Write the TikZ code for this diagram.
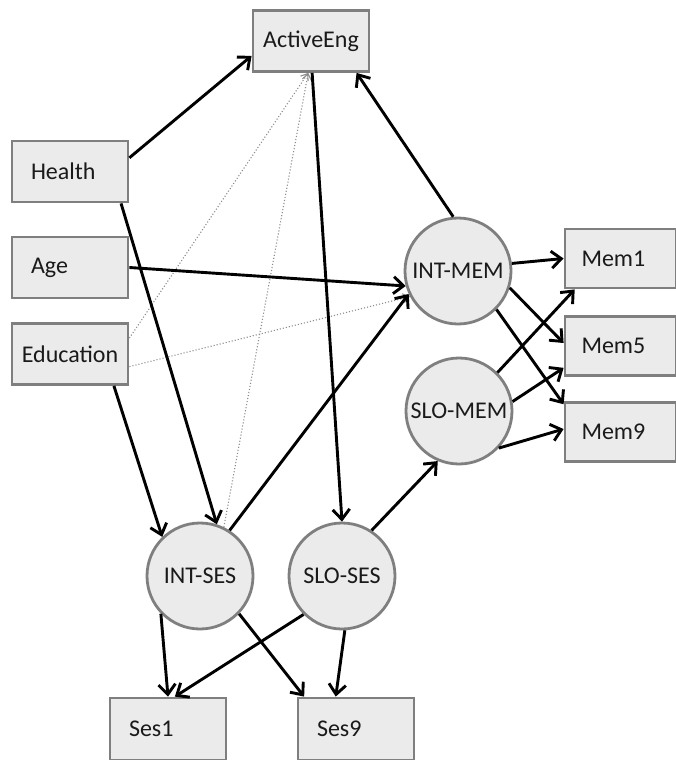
\documentclass[tikz,border=0pt]{standalone}
\usepackage{fontspec}
\setmainfont{Carlito}
\usetikzlibrary{arrows.meta}
\definecolor{BoxFill}{HTML}{EBEBEB}
\definecolor{BoxLine}{HTML}{7F7F7F}
\definecolor{LabelInk}{HTML}{1A1A1A}
\definecolor{CovGray}{HTML}{8C8C8C}

\begin{document}
\begin{tikzpicture}[x=1pt, y=-1pt,
    varbox/.style={rectangle, draw=BoxLine, fill=BoxFill, line width=2.8pt, minimum width=116pt, minimum height=61pt, inner sep=0pt, font=\fontsize{24}{28}\selectfont, text=LabelInk},
    leftlab/.style={text width=78pt, align=left},
    factor/.style={circle, draw=BoxLine, fill=BoxFill, line width=2.8pt, minimum size=106pt, inner sep=0pt, font=\fontsize{24}{28}\selectfont, text=LabelInk},
    effect/.style={-{Straight Barb[length=10pt, width=17pt]}, black, line width=2.9pt},
    cov/.style={-{Straight Barb[length=6pt, width=9pt]}, CovGray, line width=1.1pt, dotted}]
  \useasboundingbox (0,0) rectangle (676,760);
  % observed variables
  \node[varbox] (active) at (311,41) {ActiveEng};
  \node[varbox, leftlab] (health) at (70,171.5) {Health};
  \node[varbox, leftlab] (age) at (70,267.5) {Age};
  \node[varbox] (educ) at (70,354) {Education};
  \node[varbox, leftlab, minimum width=111pt, minimum height=59pt] (mem1) at (620.5,258.5) {Mem1};
  \node[varbox, leftlab, minimum width=111pt, minimum height=59pt] (mem5) at (620.5,346) {Mem5};
  \node[varbox, leftlab, minimum width=111pt, minimum height=59pt] (mem9) at (620.5,432) {Mem9};
  \node[varbox, leftlab, minimum height=62pt] (ses1) at (168,729) {Ses1};
  \node[varbox, leftlab, minimum height=62pt] (ses9) at (356,729) {Ses9};
  % growth factors
  \node[factor] (intmem) at (458,271) {INT-MEM};
  \node[factor] (slomem) at (459,411) {SLO-MEM};
  \node[factor] (intses) at (200,576) {INT-SES};
  \node[factor] (sloses) at (342,576) {SLO-SES};
  % dotted paths
  \draw[cov] (educ.15) -- (active.-95);
  \draw[cov] (intses.64) -- (active.-95);
  \draw[cov] (educ.-12) -- (intmem.208);
  % regressions
  \draw[effect] (health.13) -- (active.194);
  \draw[effect] (health.-32) -- (intses.72);
  \draw[effect] (age.east) -- (intmem.196);
  \draw[effect] (educ.-36) -- (intses.134);
  \draw[effect] (active.-88) -- (sloses.north);
  \draw[effect] (intmem.95) -- (active.-35);
  \draw[effect] (intses.57) -- (intmem.205);
  \draw[effect] (sloses.57) -- (slomem.247);
  % measurement paths
  \draw[effect] (intmem.8) -- (mem1.west);
  \draw[effect] (intmem.-18) -- (mem5.177);
  \draw[effect] (intmem.-45) -- (mem9.154);
  \draw[effect] (slomem.45) -- (mem1.214);
  \draw[effect] (slomem.10) -- (mem5.201);
  \draw[effect] (slomem.-43) -- (mem9.177);
  \draw[effect] (intses.224) -- (ses1.north);
  \draw[effect] (intses.-44) -- (ses9.148);
  \draw[effect] (sloses.225) -- (ses1.78);
  \draw[effect] (sloses.-87) -- (ses9.122);
\end{tikzpicture}
\end{document}
